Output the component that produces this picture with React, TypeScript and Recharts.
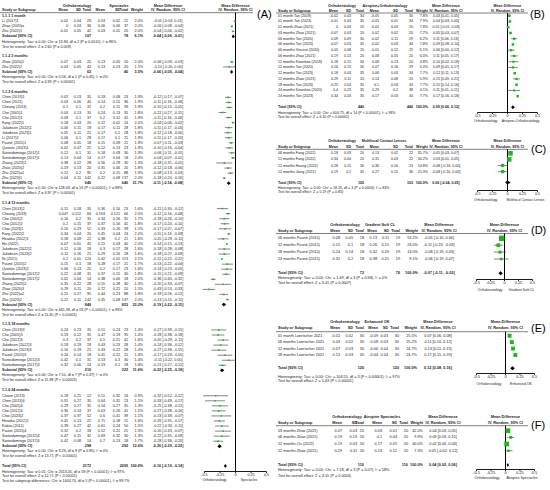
import React from "react";
import {
  ScatterChart,
  Scatter,
  XAxis,
  YAxis,
  ErrorBar,
  ReferenceLine,
  ReferenceArea,
  ReferenceDot,
} from "recharts";

// name, mean (OK), sd, n, mean (control), sd, n, weight %, MD, lower, upper
type Study = [string, number, number, number, number, number, number, number, number, number, number];

type Pooled = { n1: number; n2: number; w: number; md: number; lo: number; hi: number };

const FONT = '"Liberation Sans", Arial, Helvetica, sans-serif';
const GREEN = "#19b919";

// ---------------- (A) Orthokeratology vs Spectacles ----------------
const groupTitlesA = [
  "1.1.1 1 month",
  "1.1.2 3 months",
  "1.1.3 6 months",
  "1.1.4 12 months",
  "1.1.5 18 months",
  "1.1.6 24 months",
];

const month1A: Study[] = [
  ["Li (2017)1", 0.02, 0.04, 29, 0.03, 0.02, 21, 2.0, -0.01, -0.03, 0.01],
  ["Zhao (2020)a", 0, 0.03, 36, 0.06, 0.06, 37, 2.0, -0.06, -0.08, -0.04],
  ["Zhu (2022)1", -0.01, 0.05, 42, 0.03, 0.01, 20, 2.0, -0.04, -0.06, -0.02],
];

const months3A: Study[] = [
  ["Zhao (2020)1", 0.07, 0.03, 20, 0.13, 0.05, 20, 2.0, -0.06, -0.09, -0.03],
  ["Zhu (2022)2", 0.03, 0.05, 42, 0.13, 0.23, 20, 1.5, -0.1, -0.2, 0.0],
];

const months6A: Study[] = [
  ["Chen (2013)1", 0.07, 0.13, 35, 0.19, 0.08, 23, 1.9, -0.12, -0.17, -0.07],
  ["Chen (2021)", 0.03, 0.06, 40, 0.14, 0.15, 36, 1.9, -0.11, -0.16, -0.06],
  ["Cheung (2013)", 0.1, 0.1, 37, 0.2, 0.11, 39, 1.9, -0.1, -0.15, -0.05],
  ["Cho (2005)1", 0.03, 0.13, 35, 0.24, 0.13, 35, 1.8, -0.21, -0.27, -0.15],
  ["Cho (2012)1", 0.09, 0.1, 37, 0.2, 0.11, 41, 1.9, -0.11, -0.16, -0.06],
  ["Fang (2022)1", 0.18, 0.03, 20, 0.22, 0.02, 24, 2.0, -0.04, -0.06, -0.02],
  ["Jakobsen (2022)1", 0.06, 0.11, 19, 0.17, 0.11, 28, 1.8, -0.11, -0.17, -0.05],
  ["Jakobsen (2023)1", 0.05, 0.11, 21, 0.17, 0.1, 28, 1.8, -0.12, -0.18, -0.06],
  ["Li (2017)2", 0.06, 0.1, 29, 0.17, 0.1, 21, 1.9, -0.11, -0.17, -0.05],
  ["Pauné (2015)1", 0.08, 0.05, 18, 0.15, 0.09, 21, 1.9, -0.07, -0.11, -0.03],
  ["Queirós (2023)1", 0.02, 0.07, 25, 0.12, 0.13, 23, 1.9, -0.1, -0.16, -0.04],
  ["Santodomingo (2012)1", 0.12, 0.1, 31, 0.18, 0.09, 30, 1.9, -0.06, -0.11, -0.01],
  ["Santodomingo (2017)1", 0.13, 0.04, 14, 0.17, 0.04, 18, 2.0, -0.04, -0.07, -0.01],
  ["Zhang (2023)1", 0.38, 0.22, 28, 0.56, 0.29, 30, 1.3, -0.18, -0.31, -0.05],
  ["Zhao (2020)2", 0.19, 0.13, 20, 0.31, 0.06, 20, 1.8, -0.12, -0.18, -0.06],
  ["Zhu (2022)a1", 0.12, 0.2, 95, 0.2, 0.15, 88, 1.9, -0.08, -0.13, -0.03],
  ["Zhu (2023)1", 0.04, 0.11, 142, 0.22, 0.08, 137, 2.0, -0.18, -0.2, -0.16],
];

const months12A: Study[] = [
  ["Chen (2013)2", 0.15, 0.18, 35, 0.36, 0.16, 23, 1.6, -0.21, -0.3, -0.12],
  ["Cheung (2019)", 0.047, 0.112, 66, 0.163, 0.121, 66, 2.0, -0.12, -0.16, -0.08],
  ["Cho (2005)2", 0.16, 0.2, 35, 0.34, 0.16, 35, 1.7, -0.18, -0.26, -0.1],
  ["Cho (2012)2", 0.2, 0.15, 37, 0.37, 0.16, 41, 1.8, -0.17, -0.24, -0.1],
  ["Choi (2023)1", 0.16, 0.23, 52, 0.33, 0.26, 39, 1.5, -0.17, -0.27, -0.07],
  ["Fang (2022)2", 0.34, 0.04, 20, 0.45, 0.04, 24, 2.0, -0.11, -0.13, -0.09],
  ["Hiraoka (2012)1", 0.18, 0.09, 22, 0.38, 0.2, 21, 1.6, -0.2, -0.29, -0.11],
  ["Hu (2022)", 0.07, 0.01, 45, 0.21, 0.03, 40, 2.0, -0.14, -0.15, -0.13],
  ["Jakobsen (2022)2", 0.12, 0.16, 19, 0.3, 0.17, 28, 1.6, -0.18, -0.28, -0.08],
  ["Jakobsen (2023)2", 0.11, 0.16, 21, 0.29, 0.16, 28, 1.6, -0.18, -0.27, -0.09],
  ["Ni (2021)", 0.2, 0.01, 124, 0.42, 0.02, 113, 2.1, -0.22, -0.22, -0.22],
  ["Pauné (2015)2", 0.15, 0.1, 18, 0.28, 0.17, 21, 1.7, -0.13, -0.22, -0.04],
  ["Queirós (2023)2", 0.06, 0.13, 25, 0.2, 0.17, 23, 1.6, -0.14, -0.23, -0.05],
  ["Santodomingo (2012)2", 0.22, 0.08, 31, 0.37, 0.15, 30, 1.8, -0.15, -0.21, -0.09],
  ["Santodomingo (2017)2", 0.02, 0.04, 14, 0.38, 0.06, 18, 2.0, -0.36, -0.4, -0.32],
  ["Zhang (2023)2", 0.35, 0.22, 28, 0.55, 0.28, 30, 1.3, -0.2, -0.33, -0.07],
  ["Zhao (2020)3", 0.29, 0.11, 20, 0.72, 0.21, 20, 1.5, -0.43, -0.53, -0.33],
  ["Zhu (2022)a2", 0.25, 0.27, 95, 0.44, 0.23, 88, 1.8, -0.19, -0.26, -0.12],
  ["Zhu (2023)2", 0.22, 0.11, 142, 0.35, 0.08, 137, 2.0, -0.13, -0.15, -0.11],
];

const months18A: Study[] = [
  ["Chen (2013)3", 0.24, 0.23, 35, 0.51, 0.24, 23, 1.4, -0.27, -0.39, -0.15],
  ["Cho (2005)3", 0.19, 0.22, 35, 0.47, 0.19, 35, 1.4, -0.28, -0.38, -0.18],
  ["Cho (2012)3", 0.3, 0.2, 37, 0.5, 0.21, 41, 1.6, -0.2, -0.29, -0.11],
  ["Jakobsen (2022)3", 0.19, 0.19, 19, 0.43, 0.23, 28, 1.4, -0.24, -0.36, -0.12],
  ["Jakobsen (2023)3", 0.16, 0.19, 21, 0.43, 0.22, 28, 1.4, -0.27, -0.39, -0.15],
  ["Pauné (2015)3", 0.24, 0.14, 18, 0.41, 0.22, 21, 1.4, -0.17, -0.29, -0.05],
  ["Santodomingo (2012)3", 0.42, 0.1, 31, 0.53, 0.3, 30, 1.4, -0.11, -0.22, 0.0],
  ["Santodomingo (2017)3", 0.32, 0.06, 14, 0.53, 0.1, 18, 1.8, -0.21, -0.27, -0.15],
];

const months24A: Study[] = [
  ["Charm (2013)", 0.19, 0.21, 12, 0.51, 0.32, 16, 0.9, -0.32, -0.52, -0.12],
  ["Chen (2013)4", 0.31, 0.27, 35, 0.64, 0.31, 23, 1.1, -0.33, -0.49, -0.17],
  ["Cho (2005)4", 0.29, 0.27, 35, 0.54, 0.27, 35, 1.3, -0.25, -0.38, -0.12],
  ["Cho (2012)4", 0.36, 0.24, 37, 0.63, 0.26, 41, 1.5, -0.27, -0.38, -0.16],
  ["Choi (2023)2", 0.37, 0.37, 52, 0.6, 0.41, 39, 1.1, -0.23, -0.39, -0.07],
  ["Hiraoka (2012)2", 0.45, 0.13, 22, 0.71, 0.18, 21, 1.6, -0.26, -0.35, -0.17],
  ["Kakita (2011)", 0.39, 0.27, 42, 0.61, 0.24, 50, 1.5, -0.22, -0.33, -0.11],
  ["Pauné (2015)4", 0.32, 0.2, 18, 0.52, 0.22, 21, 1.3, -0.2, -0.33, -0.07],
  ["Santodomingo (2012)4", 0.47, 0.15, 31, 0.69, 0.32, 30, 1.3, -0.22, -0.35, -0.09],
  ["Santodomingo (2017)4", 0.42, 0.08, 14, 0.7, 0.13, 18, 1.7, -0.28, -0.36, -0.2],
];

const subtotalsA: Pooled[] = [
  { n1: 107, n2: 78, w: 6.1, md: -0.04, lo: -0.06, hi: -0.01 },
  { n1: 62, n2: 40, w: 3.5, md: -0.06, lo: -0.09, hi: -0.04 },
  { n1: 646, n2: 640, w: 31.7, md: -0.11, lo: -0.14, hi: -0.08 },
  { n1: 849, n2: 823, w: 33.2, md: -0.19, lo: -0.22, hi: -0.15 },
  { n1: 210, n2: 222, w: 11.6, md: -0.22, lo: -0.25, hi: -0.18 },
  { n1: 298, n2: 292, w: 13.6, md: -0.26, lo: -0.29, hi: -0.22 },
];

const subgroupNotesA = [
  ["Heterogeneity: Tau² = 0.00; Chi² = 13.84, df = 2 (P = 0.0010); I² = 86%", "Test for overall effect: Z = 2.60 (P = 0.009)"],
  ["Heterogeneity: Tau² = 0.00; Chi² = 0.56, df = 1 (P = 0.45); I² = 0%", "Test for overall effect: Z = 4.93 (P < 0.00001)"],
  ["Heterogeneity: Tau² = 0.00; Chi² = 128.09, df = 16 (P < 0.00001); I² = 88%", "Test for overall effect: Z = 6.97 (P < 0.00001)"],
  ["Heterogeneity: Tau² = 0.00; Chi² = 445.39, df = 18 (P < 0.00001); I² = 96%", "Test for overall effect: Z = 11.40 (P < 0.00001)"],
  ["Heterogeneity: Tau² = 0.00; Chi² = 7.50, df = 7 (P = 0.37); I² = 0%", "Test for overall effect: Z = 11.98 (P < 0.00001)"],
  ["Heterogeneity: Tau² = 0.00; Chi² = 3.26, df = 9 (P = 0.95); I² = 0%", "Test for overall effect: Z = 13.71 (P < 0.00001)"],
];

const totalA: Pooled = { n1: 2172, n2: 2095, w: 100, md: -0.16, lo: -0.19, hi: -0.14 };
const totalNotesA = [
  "Heterogeneity: Tau² = 0.01; Chi² = 2053.45, df = 59 (P < 0.00001); I² = 97%",
  "Test for overall effect: Z = 12.71 (P < 0.00001)",
  "Test for subgroup differences: Chi² = 1444.70, df = 5 (P < 0.00001), I² = 99.7%",
];

// ---------------- (B) Orthokeratology vs Atropine+Orthokeratology ----------------
const studiesB: Study[] = [
  ["01 month Tan (2018)", -0.02, 0.03, 34, -0.05, 0.05, 30, 7.8, 0.03, 0.01, 0.05],
  ["01 month Tan (2023)", -0.01, 0.03, 35, -0.05, 0.01, 34, 7.9, 0.04, 0.03, 0.05],
  ["01 month Zhao (2021)", 0, 0.03, 20, -0.01, 0.03, 20, 7.8, 0.01, -0.01, 0.03],
  ["03 months Zhao (2021)", 0.07, 0.03, 20, 0.02, 0.02, 20, 7.7, 0.05, 0.03, 0.07],
  ["06 months Tan (2020)", 0.09, 0.09, 30, -0.02, 0.11, 29, 6.2, 0.11, 0.06, 0.16],
  ["06 months Tan (2023)", 0.07, 0.03, 35, -0.02, 0.03, 34, 7.8, 0.09, 0.08, 0.1],
  ["06 months Vincent (2020)", 0.05, 0.08, 20, -0.01, 0.12, 25, 6.1, 0.06, 0.0, 0.12],
  ["06 months Zhao (2021)", 0.19, 0.13, 20, 0.08, 0.05, 20, 6.0, 0.11, 0.05, 0.17],
  ["12 months Kinoshita (2018)", 0.18, 0.15, 30, 0.08, 0.13, 20, 4.8, 0.1, 0.02, 0.18],
  ["12 months Tan (2020)", 0.16, 0.15, 30, 0.07, 0.16, 29, 5.0, 0.09, 0.01, 0.17],
  ["12 months Tan (2023)", 0.18, 0.03, 35, 0.06, 0.03, 34, 7.7, 0.12, 0.11, 0.13],
  ["12 months Zhao (2021)", 0.29, 0.11, 20, 0.14, 0.08, 20, 5.9, 0.15, 0.09, 0.21],
  ["18 months Tan (2023)", 0.25, 0.03, 35, 0.1, 0.03, 34, 7.7, 0.15, 0.14, 0.16],
  ["24 months Kinoshita (2020)", 0.4, 0.23, 35, 0.29, 0.2, 38, 4.1, 0.11, 0.01, 0.21],
  ["24 months Tan (2023)", 0.34, 0.03, 35, 0.17, 0.03, 34, 7.7, 0.17, 0.16, 0.18],
];
const totalB: Pooled = { n1: 440, n2: 440, w: 100, md: 0.09, lo: 0.06, hi: 0.12 };
const notesB = [
  "Heterogeneity: Tau² = 0.00; Chi² = 604.75, df = 14 (P < 0.00001); I² = 98%",
  "Test for overall effect: Z = 6.10 (P < 0.00001)",
];

// ---------------- (C) Orthokeratology vs Multifocal Contact Lenses ----------------
const studiesC: Study[] = [
  ["06 months Fang (2022)", 0.18, 0.03, 20, 0.13, 0.02, 22, 35.7, 0.05, 0.03, 0.07],
  ["12 months Fang (2022)", 0.34, 0.04, 20, 0.31, 0.03, 22, 34.2, 0.03, 0.01, 0.05],
  ["12 months Huang (2022)", 0.28, 0.15, 30, 0.36, 0.16, 23, 14.8, -0.08, -0.16, 0.0],
  ["12 months Jiang (2021)", 0.19, 0.2, 35, 0.27, 0.15, 36, 15.3, -0.08, -0.16, 0.0],
];
const totalC: Pooled = { n1: 105, n2: 103, w: 100, md: 0.0, lo: -0.04, hi: 0.05 };
const notesC = [
  "Heterogeneity: Tau² = 0.00; Chi² = 18.16, df = 3 (P = 0.0004); I² = 83%",
  "Test for overall effect: Z = 0.19 (P = 0.85)",
];

// ---------------- (D) Orthokeratology vs Gradient Soft CL ----------------
const studiesD: Study[] = [
  ["06 months Pauné (2015)", 0.08, 0.05, 18, 0.13, 0.11, 19, 53.2, -0.05, -0.1, 0.0],
  ["12 months Pauné (2015)", 0.15, 0.1, 18, 0.26, 0.15, 19, 23.0, -0.11, -0.19, -0.03],
  ["18 months Pauné (2015)", 0.24, 0.14, 18, 0.32, 0.19, 19, 13.0, -0.08, -0.19, 0.03],
  ["24 months Pauné (2015)", 0.32, 0.2, 18, 0.38, 0.21, 19, 9.1, -0.06, -0.19, 0.07],
];
const totalD: Pooled = { n1: 72, n2: 76, w: 100, md: -0.07, lo: -0.11, hi: -0.03 };
const notesD = [
  "Heterogeneity: Tau² = 0.00; Chi² = 1.49, df = 3 (P = 0.68); I² = 0%",
  "Test for overall effect: Z = 3.41 (P = 0.0007)",
];

// ---------------- (E) Orthokeratology vs Enhanced OK ----------------
const studiesE: Study[] = [
  ["01 month Loertscher 2021", -0.02, 0.02, 30, -0.09, 0.03, 30, 25.5, 0.07, 0.06, 0.08],
  ["06 months Loertscher 2021", 0.03, 0.02, 30, -0.08, 0.03, 30, 25.2, 0.11, 0.1, 0.12],
  ["12 months Loertscher 2021", 0.07, 0.03, 30, -0.06, 0.04, 30, 24.7, 0.13, 0.11, 0.15],
  ["18 months Loertscher 2021", 0.13, 0.03, 30, -0.04, 0.04, 30, 24.7, 0.17, 0.15, 0.19],
];
const totalE: Pooled = { n1: 120, n2: 120, w: 100, md: 0.12, lo: 0.08, hi: 0.16 };
const notesE = [
  "Heterogeneity: Tau² = 0.00; Chi² = 104.55, df = 3 (P < 0.00001); I² = 97%",
  "Test for overall effect: Z = 5.63 (P < 0.00001)",
];

// ---------------- (F) Orthokeratology vs Atropine Spectacles ----------------
const studiesF: Study[] = [
  ["03 months Zhao (2021)", 0.07, 0.03, 20, 0.03, 0.01, 20, 42.0, 0.04, 0.03, 0.05],
  ["06 months Zhao (2021)", 0.19, 0.13, 20, 0.1, 0.04, 20, 9.9, 0.09, 0.03, 0.15],
  ["12 months Ou (2022)", 0.19, 0.03, 50, 0.17, 0.05, 50, 40.0, 0.02, 0.0, 0.04],
  ["12 months Zhao (2021)", 0.29, 0.11, 20, 0.24, 0.12, 20, 7.3, 0.05, -0.02, 0.12],
];
const totalF: Pooled = { n1: 110, n2: 110, w: 100, md: 0.04, lo: 0.02, hi: 0.06 };
const notesF = [
  "Heterogeneity: Tau² = 0.00; Chi² = 7.18, df = 3 (P = 0.07); I² = 58%",
  "Test for overall effect: Z = 3.55 (P = 0.0004)",
];

const axisTicks = [-0.5, -0.25, 0, 0.25, 0.5];

type Line =
  | { kind: "study"; y: number; s: Study }
  | { kind: "pooled"; y: number; label: string; p: Pooled }
  | { kind: "text"; y: number; text: string; bold?: boolean };

type Panel = {
  tag: string;
  tagX: number;
  tagY: number;
  fs: number;
  control: string;
  nameX: number;
  cols: number[];
  ciX: number;
  g1X: number;
  g2X: number;
  h1: number;
  h2: number;
  rule: number;
  ruleX0: number;
  ruleX1: number;
  box: { left: number; top: number; width: number; height: number };
  plotTop: number;
  axisY: number;
  x0: number;
  x1: number;
  capGap: number;
  capShift: number;
  capY: number;
  dh: number;
  lines: Line[];
};

function buildA(): Line[] {
  const groups = [month1A, months3A, months6A, months12A, months18A, months24A];
  const lines: Line[] = [];
  let y = 15.6;
  groups.forEach((studies, i) => {
    lines.push({ kind: "text", y, text: groupTitlesA[i], bold: true });
    y += 5.7;
    studies.forEach((s) => {
      lines.push({ kind: "study", y, s });
      y += 5.05;
    });
    lines.push({ kind: "pooled", y, label: "Subtotal (95% CI)", p: subtotalsA[i] });
    y += 5.05;
    lines.push({ kind: "text", y, text: subgroupNotesA[i][0] });
    y += 5.05;
    lines.push({ kind: "text", y, text: subgroupNotesA[i][1] });
    y += 9.6;
  });
  lines.push({ kind: "pooled", y, label: "Total (95% CI)", p: totalA });
  totalNotesA.forEach((t, i) => lines.push({ kind: "text", y: y + 5.8 + 4.6 * i, text: t }));
  return lines;
}

function buildSimple(
  studies: Study[],
  total: Pooled,
  notes: string[],
  y0: number,
  step: number,
  yTotal: number,
  yNotes: number[]
): Line[] {
  const lines: Line[] = studies.map((s, i) => ({ kind: "study" as const, y: y0 + i * step, s }));
  lines.push({ kind: "pooled", y: yTotal, label: "Total (95% CI)", p: total });
  notes.forEach((t, i) => lines.push({ kind: "text", y: yNotes[i], text: t }));
  return lines;
}

const colsBC = [338, 351, 364, 379, 398, 413, 428];

const panels: Panel[] = [
  {
    tag: "(A)", tagX: 257, tagY: 13.5, fs: 3.7, control: "Spectacles",
    nameX: 2, cols: [68, 81, 91, 105, 120, 128, 143], ciX: 168, g1X: 77, g2X: 119,
    h1: 5.5, h2: 10.3, rule: 12.7, ruleX0: 0, ruleX1: 253,
    box: { left: 0, top: 0, width: 275, height: 490 },
    plotTop: 12.7, axisY: 471.5, x0: 204.5, x1: 266.5,
    capGap: 9, capShift: -2, capY: 480, dh: 1.9,
    lines: buildA(),
  },
  {
    tag: "(B)", tagX: 530, tagY: 13.5, fs: 3.6, control: "Atropine+Orthokeratology",
    nameX: 278, cols: colsBC, ciX: 446, g1X: 342, g2X: 385,
    h1: 5.7, h2: 11, rule: 13, ruleX0: 276, ruleX1: 528,
    box: { left: 275, top: 0, width: 275, height: 125 },
    plotTop: 13, axisY: 112.5, x0: 477.5, x1: 537.5,
    capGap: 10, capShift: -2, capY: 120.5, dh: 2,
    lines: buildSimple(studiesB, totalB, notesB, 15.7, 5.75, 107.3, [113.3, 117.3]),
  },
  {
    tag: "(C)", tagX: 531, tagY: 149, fs: 3.6, control: "Multifocal Contact Lenses",
    nameX: 278, cols: colsBC, ciX: 446, g1X: 342, g2X: 384,
    h1: 140.7, h2: 146.7, rule: 149.3, ruleX0: 276, ruleX1: 528,
    box: { left: 275, top: 135, width: 275, height: 75 },
    plotTop: 149.3, axisY: 190.5, x0: 477.5, x1: 537.5,
    capGap: 10, capShift: 3, capY: 200, dh: 2,
    lines: buildSimple(studiesC, totalC, notesC, 153.3, 6.1, 182.5, [187.7, 192.3]),
  },
  {
    tag: "(D)", tagX: 531, tagY: 230, fs: 3.8, control: "Gradient Soft CL",
    nameX: 278, cols: [340, 353, 364, 377, 389, 400, 418], ciX: 439, g1X: 345, g2X: 380,
    h1: 225, h2: 231, rule: 233.5, ruleX0: 276, ruleX1: 528,
    box: { left: 275, top: 220, width: 275, height: 80 },
    plotTop: 233.5, axisY: 279.5, x0: 476.5, x1: 532.5,
    capGap: 2, capShift: 3, capY: 290, dh: 2,
    lines: buildSimple(studiesD, totalD, notesD, 238.3, 6.9, 273.3, [278.3, 283.3]),
  },
  {
    tag: "(E)", tagX: 531, tagY: 328, fs: 3.8, control: "Enhanced OK",
    nameX: 278, cols: [340, 353, 364, 378, 388, 399, 417], ciX: 438, g1X: 345, g2X: 377,
    h1: 321.7, h2: 328.3, rule: 331.7, ruleX0: 276, ruleX1: 528,
    box: { left: 275, top: 315, width: 275, height: 75 },
    plotTop: 331.7, axisY: 373.5, x0: 476.5, x1: 534.5,
    capGap: 4, capShift: 1, capY: 384, dh: 2,
    lines: buildSimple(studiesE, totalE, notesE, 335.7, 6.43, 368.3, [376.7, 380.7]),
  },
  {
    tag: "(F)", tagX: 531, tagY: 425, fs: 3.8, control: "Atropine Spectacles",
    nameX: 278, cols: [342, 357, 364, 382, 397, 408, 423], ciX: 443, g1X: 347, g2X: 382,
    h1: 417.3, h2: 422.7, rule: 425.7, ruleX0: 276, ruleX1: 528,
    box: { left: 275, top: 410, width: 275, height: 80 },
    plotTop: 425.7, axisY: 469.5, x0: 476.5, x1: 534.5,
    capGap: 6, capShift: 2, capY: 478.3, dh: 2,
    lines: buildSimple(studiesF, totalF, notesF, 430.7, 6.67, 465, [470, 475.7]),
  },
];

const fmtCI = (md: number, lo: number, hi: number) =>
  `${md.toFixed(2)} [${lo.toFixed(2)}, ${hi.toFixed(2)}]`;

function Square(props: any) {
  const { cx, cy, payload } = props;
  if (cx == null || cy == null) return null;
  const s = 0.62 * Math.sqrt(payload.w) + 0.8;
  return <rect x={cx - s / 2} y={cy - s / 2} width={s} height={s} fill={GREEN} />;
}

function diamond(md: number, lo: number, hi: number) {
  return (props: any) => {
    const { x, y, width, height } = props;
    const xm = x + (width * (md - lo)) / (hi - lo);
    const pts = `${x},${y + height / 2} ${xm},${y} ${x + width},${y + height / 2} ${xm},${y + height}`;
    return <polygon points={pts} fill="#000" />;
  };
}

// axis tick mark + number (and the two "favours" captions), placed by the x scale
function axisTick(p: Panel, v: number) {
  return (props: any) => {
    const { cx, cy } = props;
    if (cx == null || cy == null) return <g />;
    const capDy = p.capY - p.axisY;
    return (
      <g fontFamily={FONT}>
        <line x1={cx} x2={cx} y1={cy} y2={cy + 1.6} stroke="#000" strokeWidth={0.8} />
        <text x={cx} y={cy + 3.5} fontSize={p.fs} fill="#111" textAnchor="middle" dominantBaseline="central">
          {v === 0 ? "0" : String(v)}
        </text>
        {v === 0 && (
          <text x={cx - p.capGap} y={cy + capDy} fontSize={p.fs - 0.3} fill="#222" textAnchor="end" dominantBaseline="central">
            Orthokeratology
          </text>
        )}
        {v === 0.25 && (
          <text x={cx + p.capShift} y={cy + capDy} fontSize={p.fs - 0.3} fill="#222" textAnchor="middle" dominantBaseline="central">
            {p.control}
          </text>
        )}
      </g>
    );
  };
}

function Forest({ p }: { p: Panel }) {
  const b = p.box;
  const studies = p.lines
    .filter((l): l is Extract<Line, { kind: "study" }> => l.kind === "study")
    .map((l) => ({
      x: l.s[8],
      y: l.y,
      w: l.s[7],
      err: [l.s[8] - l.s[9], l.s[10] - l.s[8]],
    }));
  const pooled = p.lines.filter(
    (l): l is Extract<Line, { kind: "pooled" }> => l.kind === "pooled"
  );

  return (
    <div style={{ position: "absolute", left: b.left, top: b.top }}>
      <ScatterChart
        width={b.width}
        height={b.height}
        margin={{
          top: p.plotTop - b.top,
          bottom: b.top + b.height - p.axisY,
          left: p.x0 - b.left,
          right: b.left + b.width - p.x1,
        }}
      >
        <XAxis type="number" dataKey="x" domain={[-0.5, 0.5]} allowDataOverflow hide />
        <YAxis
          type="number"
          dataKey="y"
          domain={[p.plotTop, p.axisY]}
          reversed
          allowDataOverflow
          hide
        />
        <ReferenceLine x={0} stroke="#000" strokeWidth={1} />
        <ReferenceLine y={p.axisY} stroke="#000" strokeWidth={0.9} />
        {axisTicks.map((v) => (
          <ReferenceDot key={v} x={v} y={p.axisY} r={0} shape={axisTick(p, v)} />
        ))}
        {pooled.map((l, i) => (
          <ReferenceArea
            key={i}
            x1={l.p.lo}
            x2={l.p.hi}
            y1={l.y - p.dh}
            y2={l.y + p.dh}
            ifOverflow="visible"
            shape={diamond(l.p.md, l.p.lo, l.p.hi)}
          />
        ))}
        <Scatter data={studies} isAnimationActive={false} shape={Square}>
          <ErrorBar dataKey="err" direction="x" width={0} stroke="#333" strokeWidth={0.6} />
        </Scatter>
      </ScatterChart>
    </div>
  );
}

function PanelText({ p }: { p: Panel }) {
  const out: React.ReactNode[] = [];
  let k = 0;
  const put = (
    x: number,
    y: number,
    s: string | number,
    anchor: "start" | "middle" | "end" = "start",
    bold = false
  ) =>
    out.push(
      <text key={k++} x={x} y={y} textAnchor={anchor} fontWeight={bold ? 700 : 400}>
        {s}
      </text>
    );

  put(p.g1X, p.h1, "Orthokeratology", "middle", true);
  put(p.g2X, p.h1, p.control, "middle", true);
  put(p.ciX, p.h1, "Mean Difference", "middle", true);
  put((p.x0 + p.x1) / 2, p.h1, "Mean Difference", "middle", true);
  put(p.nameX, p.h2, "Study or Subgroup", "start", true);
  ["Mean", "SD", "Total", "Mean", "SD", "Total", "Weight"].forEach((h, i) =>
    put(p.cols[i], p.h2, h, "end", true)
  );
  put(p.ciX, p.h2, "IV, Random, 95% CI", "middle", true);
  put((p.x0 + p.x1) / 2, p.h2, "IV, Random, 95% CI", "middle", true);

  p.lines.forEach((l) => {
    if (l.kind === "study") {
      const s = l.s;
      put(p.nameX, l.y, s[0]);
      for (let i = 1; i <= 6; i++) put(p.cols[i - 1], l.y, String(s[i]), "end");
      put(p.cols[6], l.y, `${s[7].toFixed(1)}%`, "end");
      put(p.ciX, l.y, fmtCI(s[8], s[9], s[10]), "middle");
    } else if (l.kind === "pooled") {
      put(p.nameX, l.y, l.label, "start", true);
      put(p.cols[2], l.y, l.p.n1, "end", true);
      put(p.cols[5], l.y, l.p.n2, "end", true);
      put(p.cols[6], l.y, `${l.p.w.toFixed(1)}%`, "end", true);
      put(p.ciX, l.y, fmtCI(l.p.md, l.p.lo, l.p.hi), "middle", true);
    } else {
      put(p.nameX, l.y, l.text, "start", !!l.bold);
    }
  });

  return (
    <g fontSize={p.fs}>
      <line x1={p.ruleX0} x2={p.ruleX1} y1={p.rule} y2={p.rule} stroke="#000" strokeWidth={0.5} />
      {out}
      <text x={p.tagX} y={p.tagY} fontSize={11} fontWeight={400} fill="#000">
        {p.tag}
      </text>
    </g>
  );
}

export default function App() {
  return (
    <div
      style={{
        position: "absolute",
        left: 0,
        top: 0,
        width: 550,
        height: 490,
        background: "#fff",
        overflow: "hidden",
      }}
    >
      {panels.map((p) => (
        <Forest key={p.tag} p={p} />
      ))}
      <svg
        width={550}
        height={490}
        style={{ position: "absolute", left: 0, top: 0, pointerEvents: "none" }}
        fontFamily={FONT}
        fill="#1a1a1a"
        dominantBaseline="central"
      >
        {panels.map((p) => (
          <PanelText key={p.tag} p={p} />
        ))}
      </svg>
    </div>
  );
}
